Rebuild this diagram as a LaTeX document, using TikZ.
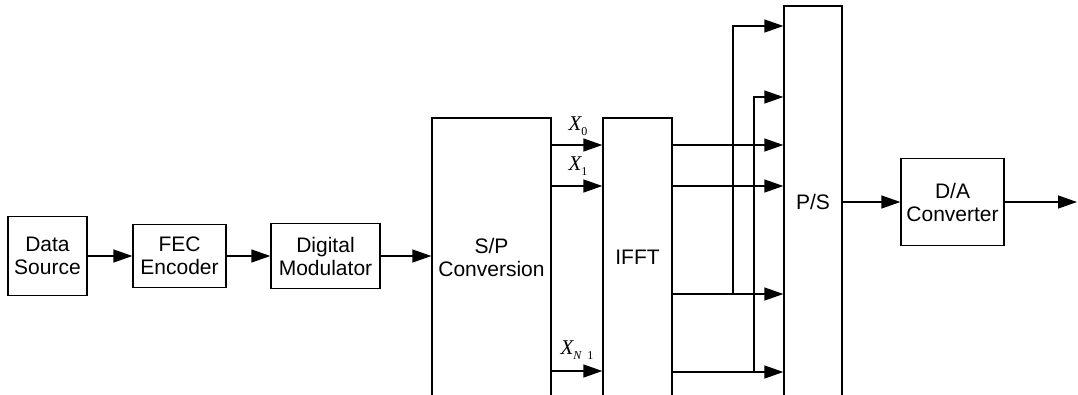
\documentclass[tikz,border=0pt]{standalone}
\usepackage{fontspec}
\setmainfont{Liberation Sans}
\newfontfamily\tnr{Liberation Serif}
\usetikzlibrary{arrows.meta}
\newcommand{\subl}[1]{\raisebox{-5pt}{\fontsize{12}{12}\selectfont #1}}
\begin{document}
\begin{tikzpicture}[x=1pt,y=-1pt,
  blk/.style={draw,line width=1.3pt,align=center,inner sep=0pt,font=\fontsize{21}{23}\selectfont},
  arr/.style={line width=1.3pt,-{Triangle[length=19pt,width=13pt]}},
  lab/.style={inner sep=0pt,font=\tnr\fontsize{21}{21}\selectfont}]
\useasboundingbox (0,0) rectangle (1078,394);
\clip (0,0) rectangle (1078,394);
% blocks
\node[blk,minimum width=79pt,minimum height=79pt] (ds) at (47.5,256) {Data\\Source};
\node[blk,minimum width=93pt,minimum height=63pt] (fec) at (179.5,256) {FEC\\Encoder};
\node[blk,minimum width=109pt,minimum height=65pt] (dm) at (325.5,256) {Digital\\Modulator};
\node[blk,minimum width=119pt,minimum height=279pt] (sp) at (491.5,257.5) {S/P\\Conversion};
\node[blk,minimum width=69pt,minimum height=279pt] (ifft) at (637.5,257.5) {IFFT};
\node[blk,minimum width=58pt,minimum height=392pt] (ps) at (813,202) {P/S};
\node[blk,minimum width=103pt,minimum height=87pt] (da) at (952.5,202) {D/A\\Converter};
\coordinate (out) at (1077,202);
% labels
\node[lab] (x0) at (578,126) {\itshape X\subl{\upshape 0}};
\node[lab] (x1) at (578,166) {\itshape X\subl{\upshape 1}};
\node[lab] (xn) at (577,350) {\itshape X\subl{\itshape N\hspace{6pt}\upshape 1}};
% chain
\draw[arr] (ds.east) -- (fec.west);
\draw[arr] (fec.east) -- (dm.west);
\draw[arr] (dm.east) -- (dm.east -| sp.west);
% S/P -> IFFT
\foreach \y in {145,186,371}{
  \draw[arr] (sp.east |- 0,\y) -- (ifft.west |- 0,\y);
}
% IFFT -> P/S direct
\foreach \y in {145,186,294,372}{
  \draw[arr] (ifft.east |- 0,\y) -- (ps.west |- 0,\y);
}
% branches
\coordinate (b1) at (733,294);
\coordinate (b2) at (754,372);
\draw[arr] (b1) -- (b1 |- 0,26) -- (ps.west |- 0,26);
\draw[arr] (b2) -- (b2 |- 0,97) -- (ps.west |- 0,97);
% P/S -> D/A -> out
\draw[arr] (ps.east) -- (da.west);
\draw[arr] (da.east) -- (out);
\end{tikzpicture}
\end{document}
